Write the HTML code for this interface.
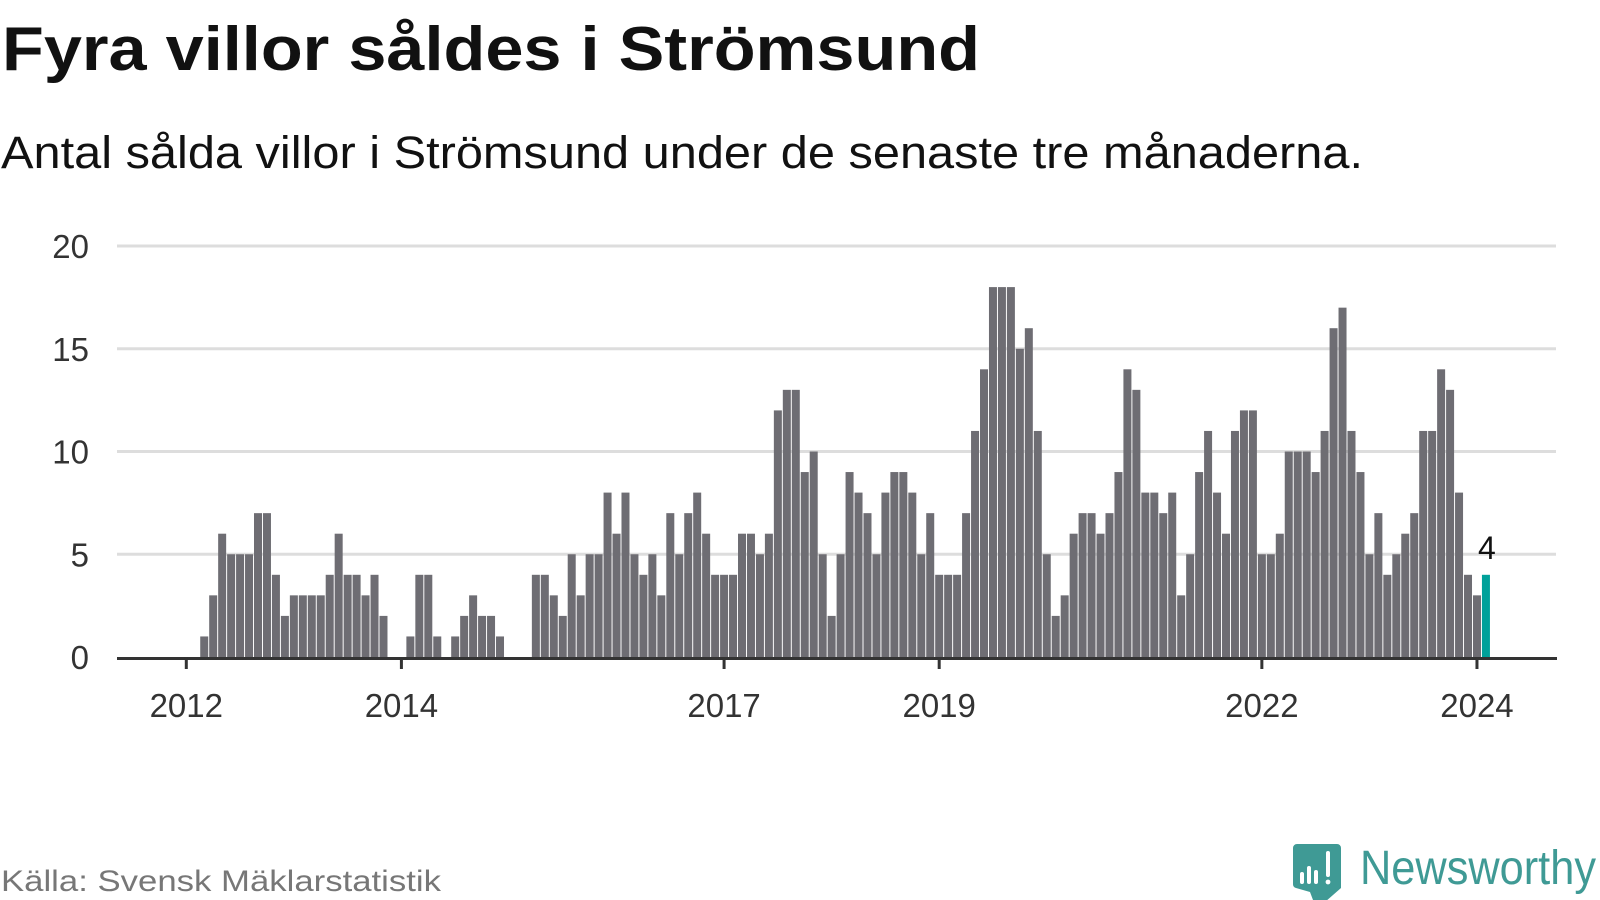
<!DOCTYPE html>
<html><head><meta charset="utf-8">
<style>
html,body{margin:0;padding:0;background:#fff;}
svg{display:block;}
text{font-family:"Liberation Sans",sans-serif;}
</style></head>
<body>
<svg id="chart" width="1600" height="900" viewBox="0 0 1600 900" xmlns="http://www.w3.org/2000/svg">
  <text x="2" y="70" font-size="62" font-weight="bold" fill="#111" textLength="978" lengthAdjust="spacingAndGlyphs">Fyra villor såldes i Strömsund</text>
  <text x="1" y="168" font-size="45" fill="#111" textLength="1362" lengthAdjust="spacingAndGlyphs">Antal sålda villor i Strömsund under de senaste tre månaderna.</text>
  <g id="grid"></g>
  <g id="bars"></g>
  <g id="xaxis"></g>
  <text x="1" y="891" font-size="30" fill="#777" textLength="440" lengthAdjust="spacingAndGlyphs">Källa: Svensk Mäklarstatistik</text>
  <g>
    <path d="M1295 844 h42 a4 4 0 0 1 4 4 v40 l-16 14 l-12 -2 l-3 -8 l-14 -4 a4 4 0 0 1 -3 -4 v-36 a4 4 0 0 1 4 -4z" fill="#3f9a95"/>
    <rect x="1300" y="872" width="4" height="12" rx="2" fill="#fff"/>
    <rect x="1307" y="866" width="4" height="18" rx="2" fill="#fff"/>
    <rect x="1314" y="870" width="4" height="14" rx="2" fill="#fff"/>
    <rect x="1326" y="851" width="4" height="26" rx="2" fill="#fff"/>
    <circle cx="1328" cy="882" r="2.4" fill="#fff"/>
    <text x="1360" y="884" font-size="48" fill="#3f9a95" textLength="236" lengthAdjust="spacingAndGlyphs">Newsworthy</text>
  </g>
</svg>
<script>
const startIndices = [2, 25, 30, 39];
const groupValues = [
  [1,3,6,5,5,5,7,7,4,2,3,3,3,3,4,6,4,4,3,4,2],
  [1,4,4,1],
  [1,2,3,2,2,1],
  [4,4,3,2,5,3,5,5,8,6,8,5,4,5,3,7,5,7,8,6,4,4,4,6,6,5,6,12,13,13,9,10,5,2,5,
   9,8,7,5,8,9,9,8,5,7,4,4,4,7,11,14,18,18,18,15,16,11,5,2,3,6,7,7,6,7,9,14,13,8,8,
   7,8,3,5,9,11,8,6,11,12,12,5,5,6,10,10,10,9,11,16,17,11,9,5,7,4,5,6,7,11,11,14,13,8,4,3,4]
];
const yTicks = [0,5,10,15,20];
const yTickLabels = ["0","5","10","15","20"];
const xTickYears = [2012,2014,2017,2019,2022,2024];
const xTickLabels = ["2012","2014","2017","2019","2022","2024"];
const startYear = 2012;

const NS = "http://www.w3.org/2000/svg";
const x0 = 186.3, step = 8.963, y0 = 657, unit = 20.55;
function xScale(i){ return x0 + i*step; }
function yScale(v){ return y0 - v*unit; }
function mk(tag, attrs, parent){ const e=document.createElementNS(NS,tag); for(const k in attrs) e.setAttribute(k,attrs[k]); parent.appendChild(e); return e; }

const grid = document.getElementById('grid');
yTicks.forEach((t,k)=>{
  if(t>0){
    const l = mk('line',{x1:117,x2:1556,y1:yScale(t),y2:yScale(t),stroke:'#dddddd','stroke-width':3},grid);
    
    
  }
  const tx = mk('text',{x:89,y:yScale(t)+12,'font-size':33,fill:'#333','text-anchor':'end'},grid);
  tx.textContent = yTickLabels[k];
  
  
});

const bars = document.getElementById('bars');
let all = [];
groupValues.forEach((vals,g)=>{ vals.forEach((v,j)=>all.push([startIndices[g]+j, v])); });
all.forEach(([i,v],n)=>{
  const last = n===all.length-1;
  const r = mk('rect',{x:xScale(i)-4,y:yScale(v),width:8,height:v*unit,fill:last?'#00a19a':'#6e6d73'},bars);
  
  
  if(last){
    const t = mk('text',{x:xScale(i)+1,y:yScale(v)-16,'font-size':32,fill:'#111','text-anchor':'middle'},bars);
    t.textContent = String(v);
    
    
  }
});

const xa = document.getElementById('xaxis');
const axis = mk('line',{x1:117,x2:1557,y1:y0+1.5,y2:y0+1.5,stroke:'#333','stroke-width':3},xa);


xTickYears.forEach((yr,k)=>{
  const x = xScale((yr-startYear)*12);
  const tk = mk('line',{x1:x,x2:x,y1:y0,y2:y0+12,stroke:'#333','stroke-width':3},xa);
  
  
  const t = mk('text',{x:x,y:717,'font-size':33,fill:'#333','text-anchor':'middle'},xa);
  t.textContent = xTickLabels[k];
  
  
});
</script>
</body></html>
